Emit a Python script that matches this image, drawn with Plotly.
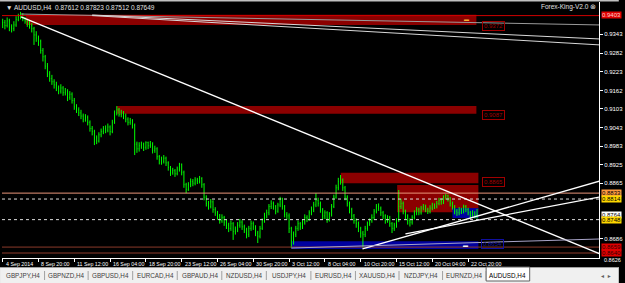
import plotly.graph_objects as go

# ---------------- data ----------------
opens = [
0.9375,0.9380,0.9370,0.9385,0.9365,0.9360,0.9372,0.9390,0.9398,0.9405,
0.9392,0.9385,0.9375,0.9370,0.9360,0.9340,0.9330,0.9320,0.9290,0.9270,
0.9240,0.9215,0.9200,0.9190,0.9180,0.9170,0.9160,0.9170,0.9155,0.9160,
0.9140,0.9150,0.9130,0.9110,0.9100,0.9090,0.9080,0.9070,0.9075,0.9060,
0.9040,0.9030,0.9010,0.9000,0.9020,0.9030,0.9040,0.9035,0.9045,0.9030,
0.9060,0.9090,0.9100,0.9085,0.9090,0.9080,0.9070,0.9060,0.9065,0.9050,
0.8990,0.8975,0.8985,0.8990,0.8980,0.8995,0.8985,0.8990,0.8970,0.8975,
0.8950,0.8940,0.8935,0.8945,0.8930,0.8915,0.8900,0.8905,0.8895,0.8910,
0.8925,0.8900,0.8860,0.8845,0.8860,0.8870,0.8865,0.8875,0.8870,0.8880,
0.8860,0.8820,0.8800,0.8790,0.8805,0.8780,0.8770,0.8760,0.8745,0.8755,
0.8740,0.8730,0.8720,0.8735,0.8710,0.8715,0.8730,0.8740,0.8725,0.8715,
0.8700,0.8720,0.8735,0.8725,0.8705,0.8695,0.8720,0.8745,0.8760,0.8770,
0.8790,0.8800,0.8790,0.8775,0.8795,0.8815,0.8790,0.8765,0.8760,0.8720,
0.8680,0.8700,0.8720,0.8735,0.8725,0.8740,0.8755,0.8750,0.8770,0.8780,
0.8795,0.8810,0.8800,0.8780,0.8760,0.8770,0.8750,0.8765,0.8790,0.8820,
0.8850,0.8870,0.8875,0.8850,0.8820,0.8800,0.8780,0.8760,0.8745,0.8735,
0.8720,0.8705,0.8700,0.8720,0.8735,0.8745,0.8755,0.8775,0.8790,0.8785,
0.8770,0.8760,0.8745,0.8755,0.8735,0.8720,0.8730,0.8745,0.8790,0.8800,
0.8775,0.8760,0.8745,0.8740,0.8755,0.8770,0.8780,0.8770,0.8785,0.8790,
0.8780,0.8775,0.8785,0.8795,0.8790,0.8800,0.8810,0.8805,0.8820,0.8825,
0.8815,0.8800,0.8790,0.8775,0.8770,0.8780,0.8775,0.8790,0.8780,0.8770,
0.8761,0.8770,0.87612]

highs = [
0.9392,0.9388,0.9396,0.9392,0.9374,0.9384,0.9400,0.9408,0.9414,0.9410,
0.9398,0.9392,0.9386,0.9378,0.9366,0.9352,0.9338,0.9325,0.9298,0.9276,
0.9250,0.9224,0.9212,0.9198,0.9190,0.9178,0.9182,0.9176,0.9170,0.9166,
0.9160,0.9156,0.9138,0.9118,0.9108,0.9100,0.9088,0.9086,0.9082,0.9066,
0.9048,0.9036,0.9018,0.9028,0.9040,0.9048,0.9050,0.9056,0.9050,0.9068,
0.9098,0.9112,0.9106,0.9100,0.9096,0.9088,0.9076,0.9074,0.9070,0.9056,
0.8998,0.8996,0.8998,0.8995,0.8999,0.8998,0.9000,0.8996,0.8985,0.8980,
0.8955,0.8950,0.8955,0.8950,0.8935,0.8920,0.8914,0.8910,0.8918,0.8930,
0.8928,0.8905,0.8866,0.8868,0.8880,0.8878,0.8884,0.8882,0.8888,0.8884,
0.8865,0.8826,0.8808,0.8814,0.8810,0.8788,0.8776,0.8766,0.8765,0.8760,
0.8748,0.8738,0.8745,0.8740,0.8726,0.8740,0.8750,0.8746,0.8732,0.8722,
0.8728,0.8745,0.8742,0.8730,0.8712,0.8728,0.8752,0.8770,0.8780,0.8798,
0.8810,0.8806,0.8795,0.8802,0.8821,0.8818,0.8795,0.8772,0.8768,0.8725,
0.8710,0.8728,0.8745,0.8740,0.8750,0.8765,0.8762,0.8778,0.8790,0.8805,
0.8833,0.8818,0.8806,0.8785,0.8778,0.8775,0.8772,0.8798,0.8828,0.8860,
0.8882,0.8891,0.8880,0.8856,0.8826,0.8806,0.8786,0.8766,0.8752,0.8742,
0.8725,0.8712,0.8728,0.8742,0.8752,0.8765,0.8782,0.8798,0.8800,0.8790,
0.8776,0.8765,0.8762,0.8760,0.8740,0.8738,0.8752,0.8843,0.8815,0.8806,
0.8780,0.8765,0.8752,0.8762,0.8778,0.8788,0.8786,0.8792,0.8798,0.8796,
0.8786,0.8794,0.8802,0.8800,0.8808,0.8818,0.8816,0.8826,0.8830,0.8828,
0.8820,0.8806,0.8795,0.8782,0.8788,0.8786,0.8796,0.8795,0.8786,0.8776,
0.8778,0.8775,0.87823]

lows = [
0.9362,0.9358,0.9364,0.9352,0.9348,0.9352,0.9366,0.9384,0.9390,0.9384,
0.9376,0.9366,0.9360,0.9348,0.9308,0.9318,0.9305,0.9280,0.9255,0.9230,
0.9205,0.9190,0.9180,0.9168,0.9160,0.9150,0.9152,0.9145,0.9146,0.9128,
0.9132,0.9120,0.9100,0.9090,0.9080,0.9070,0.9060,0.9062,0.9050,0.9030,
0.9018,0.8987,0.8990,0.8995,0.9012,0.9022,0.9025,0.9028,0.9018,0.9025,
0.9055,0.9082,0.9078,0.9076,0.9070,0.9060,0.9050,0.9052,0.9040,0.8955,
0.8962,0.8966,0.8975,0.8968,0.8972,0.8974,0.8978,0.8960,0.8962,0.8940,
0.8925,0.8924,0.8928,0.8920,0.8905,0.8888,0.8892,0.8885,0.8890,0.8902,
0.8890,0.8850,0.8833,0.8840,0.8852,0.8855,0.8858,0.8862,0.8864,0.8850,
0.8810,0.8790,0.8780,0.8784,0.8770,0.8760,0.8748,0.8735,0.8738,0.8728,
0.8718,0.8708,0.8712,0.8683,0.8700,0.8708,0.8722,0.8715,0.8705,0.8688,
0.8692,0.8712,0.8715,0.8695,0.8673,0.8688,0.8715,0.8738,0.8752,0.8762,
0.8782,0.8780,0.8765,0.8770,0.8788,0.8780,0.8755,0.8748,0.8705,0.8657,
0.8668,0.8692,0.8712,0.8715,0.8718,0.8732,0.8740,0.8744,0.8762,0.8772,
0.8788,0.8790,0.8770,0.8748,0.8750,0.8738,0.8742,0.8758,0.8785,0.8815,
0.8842,0.8860,0.8840,0.8810,0.8790,0.8768,0.8748,0.8735,0.8722,0.8708,
0.8690,0.8657,0.8692,0.8712,0.8728,0.8738,0.8748,0.8768,0.8776,0.8760,
0.8750,0.8735,0.8738,0.8725,0.8705,0.8712,0.8722,0.8740,0.8782,0.8765,
0.8748,0.8732,0.8726,0.8732,0.8748,0.8762,0.8762,0.8764,0.8778,0.8772,
0.8766,0.8768,0.8778,0.8782,0.8784,0.8794,0.8796,0.8798,0.8812,0.8806,
0.8790,0.8780,0.8765,0.8760,0.8762,0.8766,0.8768,0.8772,0.8762,0.8752,
0.8754,0.8752,0.87512]

closes = [
0.9380,0.9370,0.9385,0.9365,0.9360,0.9372,0.9390,0.9398,0.9405,0.9392,
0.9385,0.9375,0.9370,0.9360,0.9340,0.9330,0.9320,0.9290,0.9270,0.9240,
0.9215,0.9200,0.9190,0.9180,0.9170,0.9160,0.9170,0.9155,0.9160,0.9140,
0.9150,0.9130,0.9110,0.9100,0.9090,0.9080,0.9070,0.9075,0.9060,0.9040,
0.9030,0.9010,0.9000,0.9020,0.9030,0.9040,0.9035,0.9045,0.9030,0.9060,
0.9090,0.9100,0.9085,0.9090,0.9080,0.9070,0.9060,0.9065,0.9050,0.8990,
0.8975,0.8985,0.8990,0.8980,0.8995,0.8985,0.8990,0.8970,0.8975,0.8950,
0.8940,0.8935,0.8945,0.8930,0.8915,0.8900,0.8905,0.8895,0.8910,0.8925,
0.8900,0.8860,0.8845,0.8860,0.8870,0.8865,0.8875,0.8870,0.8880,0.8860,
0.8820,0.8800,0.8790,0.8805,0.8780,0.8770,0.8760,0.8745,0.8755,0.8740,
0.8730,0.8720,0.8735,0.8710,0.8715,0.8730,0.8740,0.8725,0.8715,0.8700,
0.8720,0.8735,0.8725,0.8705,0.8695,0.8720,0.8745,0.8760,0.8770,0.8790,
0.8800,0.8790,0.8775,0.8795,0.8815,0.8790,0.8765,0.8760,0.8720,0.8680,
0.8700,0.8720,0.8735,0.8725,0.8740,0.8755,0.8750,0.8770,0.8780,0.8795,
0.8810,0.8800,0.8780,0.8760,0.8770,0.8750,0.8765,0.8790,0.8820,0.8850,
0.8870,0.8875,0.8850,0.8820,0.8800,0.8780,0.8760,0.8745,0.8735,0.8720,
0.8705,0.8700,0.8720,0.8735,0.8745,0.8755,0.8775,0.8790,0.8785,0.8770,
0.8760,0.8745,0.8755,0.8735,0.8720,0.8730,0.8745,0.8790,0.8800,0.8775,
0.8760,0.8745,0.8740,0.8755,0.8770,0.8780,0.8770,0.8785,0.8790,0.8780,
0.8775,0.8785,0.8795,0.8790,0.8800,0.8810,0.8805,0.8820,0.8825,0.8815,
0.8800,0.8790,0.8775,0.8770,0.8780,0.8775,0.8790,0.8780,0.8770,0.8761,
0.8770,0.8761,0.87649]

bar_index = list(range(len(closes)))

# time-axis labels (every 16 H4 bars)
xtick_index = [0, 16, 32, 48, 64, 80, 96, 112, 128, 144, 160, 176, 192, 208]
xtick_text = ["4 Sep 2014", "8 Sep 20:00", "11 Sep 12:00", "16 Sep 04:00",
              "18 Sep 20:00", "23 Sep 12:00", "26 Sep 04:00", "30 Sep 20:00",
              "3 Oct 12:00", "8 Oct 04:00", "10 Oct 20:00", "15 Oct 12:00",
              "20 Oct 04:00", "22 Oct 20:00"]

# price-axis grid labels (the others sit under coloured tags)
ytick_vals = [0.9343, 0.9282, 0.9223, 0.9162, 0.9103, 0.9043, 0.8983,
              0.8925, 0.8865, 0.8686]
ytick_bottom = 0.8626

# zones: (start bar, end bar, low price, high price)
red_zones = [(10.4, 211.7, 0.9372, 0.9405),
             (51.1, 211.7, 0.9087, 0.9112),
             (151.1, 212.6, 0.8865, 0.8898),
             (176.3, 212.6, 0.8772, 0.8859)]
blue_zones = [(129.0, 212.6, 0.8654, 0.8679),
              (201.0, 212.6, 0.8753, 0.8785)]

# zone tags drawn right of the zones: (bar, price, text, colour)
zone_tags = [(214.3, 0.9369, "0.9372", "#a00000"),
             (214.3, 0.9085, "0.9087", "#a00000"),
             (214.3, 0.8869, "0.8865", "#a00000"),
             (213.6, 0.8671, "0.8654", "#1010a0")]

# trend lines: (bar0, price0, bar1, price1, color, width)
trend_lines = [(8.2, 0.9398, 267.0, 0.8638, "white", 1.3),
               (160.8, 0.8654, 267.0, 0.8872, "white", 1.3),
               (180.0, 0.8702, 267.0, 0.8821, "white", 1.3),
               (8.2, 0.9407, 267.0, 0.9372, "#9a9a9a", 1),
               (40.0, 0.9404, 267.0, 0.9327, "#d8d8d8", 1),
               (40.0, 0.9402, 267.0, 0.9308, "#d8d8d8", 1),
               (129.0, 0.8657, 267.0, 0.8686, "#a8a4c8", 1)]

# horizontal levels: (price, color, dash)
h_levels = [(0.9402, "#d00000", "solid"),
            (0.8833, "#e9967a", "solid"),
            (0.8814, "#dddddd", "dot"),
            (0.8748, "#dddddd", "dot"),
            (0.8660, "#8b3a2a", "solid"),
            (0.8641, "#8b3a2a", "solid")]

# coloured price tags on the axis: (price, text, bg, fg)
price_tags = [(0.9403, "0.9403", "#e00000", "#ffd0d0"),
              (0.8833, "0.8833", "#ff9a40", "black"),
              (0.8814, "0.8814", "#ffd700", "black"),
              (0.8764, "0.8764", "white", "black"),
              (0.8748, "0.8748", "#ffd700", "black"),
              (0.8659, "0.8659", "#e00000", "#300000"),
              (0.8640, "0.8640", "#e00000", "#300000")]

tabs = ["GBPJPY,H4", "GBPNZD,H4", "GBPUSD,H4", "EURCAD,H4", "GBPAUD,H4",
        "NZDUSD,H4", "USDJPY,H4", "EURUSD,H4", "XAUUSD,H4", "NZDJPY,H4",
        "EURNZD,H4", "AUDUSD,H4"]

# ---------------- figure ----------------
W, H = 625, 283
ML, MR, MT, MB = 2, 20, 2, 25
PW, PH = W - ML - MR, H - MT - MB
FONT = "Liberation Sans"

def px_x(p):
    return (p - ML) / PW

def px_y(p):
    return (H - MB - p) / PH

fig = go.Figure()
fig.add_trace(go.Ohlc(
    x=bar_index, open=opens, high=highs, low=lows, close=closes,
    increasing=dict(line=dict(color="#00ff00", width=1)),
    decreasing=dict(line=dict(color="#00ff00", width=1)),
    tickwidth=0.2, hoverinfo="skip", showlegend=False))

shapes = []
for x0, x1, y0, y1 in red_zones:
    shapes.append(dict(type="rect", xref="x", yref="y", x0=x0, x1=x1, y0=y0, y1=y1,
                       fillcolor="#8b0000", line=dict(width=0), layer="below"))
for x0, x1, y0, y1 in blue_zones:
    shapes.append(dict(type="rect", xref="x", yref="y", x0=x0, x1=x1, y0=y0, y1=y1,
                       fillcolor="#0000a0", line=dict(width=0), layer="below"))
for pr, col, dash in h_levels:
    shapes.append(dict(type="line", xref="paper", yref="y", x0=0, x1=1, y0=pr, y1=pr,
                       line=dict(color=col, width=1, dash=dash), layer="above"))
for x0, y0, x1, y1, col, w in trend_lines:
    shapes.append(dict(type="line", xref="x", yref="y", x0=x0, x1=x1, y0=y0, y1=y1,
                       line=dict(color=col, width=w), layer="above"))

# tab strip
shapes.append(dict(type="rect", xref="paper", yref="paper", x0=px_x(0), x1=px_x(W),
                   y0=px_y(284), y1=px_y(267), fillcolor="#f0f0f0",
                   line=dict(width=0), layer="above"))
shapes.append(dict(type="line", xref="paper", yref="paper", x0=px_x(0), x1=px_x(W),
                   y0=px_y(267.5), y1=px_y(267.5), line=dict(color="#a0a0a0", width=1)))
# window frame top
shapes.append(dict(type="rect", xref="paper", yref="paper", x0=px_x(0), x1=px_x(W),
                   y0=px_y(1.5), y1=px_y(0), fillcolor="#c0c0c0",
                   line=dict(width=0)))

annotations = []
# x labels
for xi, txt in zip(xtick_index, xtick_text):
    annotations.append(dict(x=xi, xref="x", y=px_y(264), yref="paper", text=txt,
                            showarrow=False, xanchor="left", yanchor="middle", xshift=1,
                            font=dict(family=FONT, size=5.3, color="white")))
# bottom price label
annotations.append(dict(x=1, xref="paper", y=px_y(259.5), yref="paper",
                        text=f"{ytick_bottom:.4f}", showarrow=False, xanchor="left",
                        yanchor="middle", xshift=3,
                        font=dict(family=FONT, size=5.5, color="white")))
# price tags
for pr, txt, bg, fg in price_tags:
    annotations.append(dict(x=1, xref="paper", y=pr, yref="y", text=txt,
                            showarrow=False, xanchor="left", yanchor="middle", xshift=2,
                            bgcolor=bg, borderpad=0,
                            font=dict(family=FONT, size=6, color=fg)))
# zone tags
for xb, pr, txt, col in zone_tags:
    annotations.append(dict(x=xb, xref="x", y=pr, yref="y", text=txt,
                            showarrow=False, xanchor="left", yanchor="middle",
                            bordercolor=col, borderwidth=1, borderpad=1,
                            font=dict(family=FONT, size=6, color=col)))
# small markers inside zones
annotations.append(dict(x=207.5, xref="x", y=0.9390, yref="y", text="▬",
                        showarrow=False, font=dict(size=5, color="#ffb030")))
annotations.append(dict(x=207.0, xref="x", y=0.8667, yref="y", text="▬",
                        showarrow=False, font=dict(size=5, color="#f0f0f0")))
# title
annotations.append(dict(x=px_x(4), xref="paper", y=px_y(7), yref="paper",
                        text="▼ AUDUSD,H4  0.87612 0.87823 0.87512 0.87649",
                        showarrow=False, xanchor="left", yanchor="middle",
                        font=dict(family=FONT, size=6.5, color="#e0e0e0")))
annotations.append(dict(x=px_x(604), xref="paper", y=px_y(7), yref="paper",
                        text="Forex-King-V2.0 ⊗", showarrow=False, xanchor="right",
                        yanchor="middle",
                        font=dict(family=FONT, size=6.5, color="#e0e0e0")))
# tabs
tab_centers = [23, 67, 112, 157, 202, 247, 292, 337, 381, 425, 469, 513]
for cx, t in zip(tab_centers, tabs):
    active = t == "AUDUSD,H4"
    if active:
        shapes.append(dict(type="rect", xref="paper", yref="paper",
                           x0=px_x(cx - 22), x1=px_x(cx + 22), y0=px_y(281), y1=px_y(267),
                           fillcolor="white", line=dict(color="#606060", width=1)))
    else:
        shapes.append(dict(type="line", xref="paper", yref="paper",
                           x0=px_x(cx + 22), x1=px_x(cx + 22), y0=px_y(280), y1=px_y(271),
                           line=dict(color="#a0a0a0", width=1)))
    annotations.append(dict(x=px_x(cx), xref="paper", y=px_y(275), yref="paper", text=t,
                            showarrow=False, xanchor="center", yanchor="middle",
                            font=dict(family=FONT, size=6.3,
                                      color="black" if active else "#404040")))
annotations.append(dict(x=px_x(612), xref="paper", y=px_y(275), yref="paper",
                        text="◂  ▸", showarrow=False, xanchor="center", yanchor="middle",
                        font=dict(family="DejaVu Sans", size=6, color="#606060")))

fig.update_layout(
    width=W, height=H, margin=dict(l=ML, r=MR, t=MT, b=MB),
    paper_bgcolor="black", plot_bgcolor="black",
    shapes=shapes, annotations=annotations, showlegend=False,
    xaxis=dict(range=[-0.3, 266.5], showgrid=False, zeroline=False,
               rangeslider=dict(visible=False), tickvals=xtick_index,
               showticklabels=False, ticks="outside", ticklen=3, tickcolor="white",
               showline=True, linecolor="white", linewidth=1),
    yaxis=dict(range=[0.86250, 0.94456], side="right", showgrid=False, zeroline=False,
               tickvals=ytick_vals, tickformat=".4f", ticks="outside", ticklen=3,
               tickcolor="white", showline=True, linecolor="white", linewidth=1,
               tickfont=dict(family=FONT, size=6, color="white")),
)

fig.write_html("out.html")
